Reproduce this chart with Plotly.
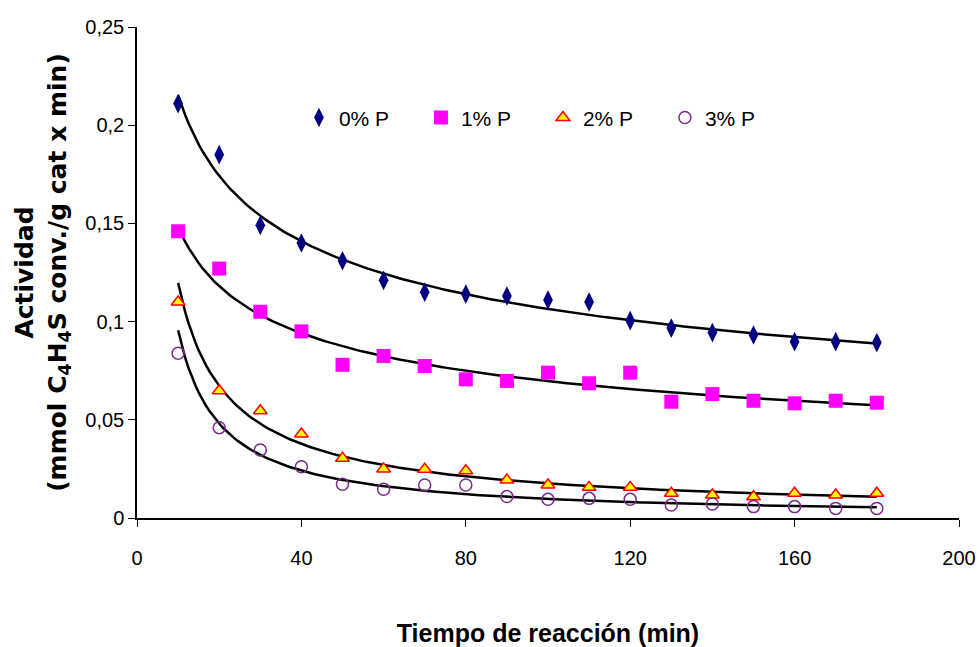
import numpy as np
import plotly.graph_objects as go

x_min = [10, 20, 30, 40, 50, 60, 70, 80, 90, 100, 110, 120, 130, 140, 150, 160, 170, 180]
p0 = [0.211, 0.185, 0.149, 0.140, 0.131, 0.121, 0.115, 0.114, 0.113, 0.111, 0.110, 0.1005, 0.0967, 0.0944, 0.0932, 0.0898, 0.0898, 0.0893]
p1 = [0.146, 0.127, 0.105, 0.095, 0.078, 0.0825, 0.0774, 0.0706, 0.0698, 0.074, 0.0686, 0.074, 0.0592, 0.0631, 0.0597, 0.0584, 0.0597, 0.0587]
p2 = [0.110, 0.0648, 0.0546, 0.0428, 0.0304, 0.0250, 0.0248, 0.0241, 0.0193, 0.0168, 0.0156, 0.0156, 0.0126, 0.0117, 0.0108, 0.0126, 0.0117, 0.0126]
p3 = [0.0839, 0.046, 0.0346, 0.0261, 0.0172, 0.0146, 0.0168, 0.0168, 0.0109, 0.0095, 0.0100, 0.0095, 0.0066, 0.0071, 0.0058, 0.0058, 0.0049, 0.0049]
names = ["0% P", "1% P", "2% P", "3% P"]
x_ticks = [0, 40, 80, 120, 160, 200]
y_ticks = [0, 0.05, 0.1, 0.15, 0.2, 0.25]

SANS = "Liberation Sans, Arial"

fig = go.Figure()

# power-law trendlines (y = a x^b), fitted from the data
xx = np.linspace(10, 180, 200)
for ys in [p0, p1, p2, p3]:
    b, lna = np.polyfit(np.log(x_min), np.log(ys), 1)
    fig.add_trace(go.Scatter(x=xx, y=np.exp(lna) * xx ** b, mode="lines",
                             line=dict(color="black", width=2.5), showlegend=False,
                             hoverinfo="skip"))

styles = [
    dict(symbol="diamond-tall", size=14, color="#000080", line=dict(width=0)),
    dict(symbol="square", size=14, color="#FF00FF", line=dict(width=0)),
    dict(symbol="triangle-up", size=12, color="#FFFF00", line=dict(color="#FF0000", width=1.5)),
    dict(symbol="circle-open", size=12, color="#7B2A8C", line=dict(color="#7B2A8C", width=1.5)),
]
for ys, nm, st in zip([p0, p1, p2, p3], names, styles):
    fig.add_trace(go.Scatter(x=x_min, y=ys, mode="markers", name=nm, marker=st))

fig.update_layout(
    width=980, height=647,
    margin=dict(l=137, r=21, t=27, b=129),
    paper_bgcolor="white", plot_bgcolor="white",
    separators=", ",
    font=dict(family=SANS, size=20, color="black"),
    showlegend=True,
    legend=dict(orientation="h", x=0.197, y=0.815, xanchor="left", yanchor="middle",
                bgcolor="rgba(0,0,0,0)", font=dict(family=SANS, size=21),
                entrywidth=77, entrywidthmode="pixels", itemwidth=30,
                traceorder="normal"),
    xaxis=dict(range=[0, 200], tickvals=x_ticks, showgrid=False, zeroline=False,
               automargin=False, ticklabeloverflow="allow",
               showline=True, linecolor="black", linewidth=1.5,
               ticks="outside", ticklen=7, tickcolor="black",
               ticklabelstandoff=14,
               tickfont=dict(family=SANS, size=20),
               title=dict(text="<b>Tiempo de reacción (min)</b>",
                          font=dict(family=SANS, size=25), standoff=58)),
    yaxis=dict(range=[0, 0.25], tickvals=y_ticks, showgrid=False, zeroline=False,
               automargin=False, ticklabeloverflow="allow",
               showline=True, linecolor="black", linewidth=1.5,
               ticks="outside", ticklen=7, tickcolor="black",
               tickfont=dict(family=SANS, size=20),
               title=dict(text="<b>Actividad</b><br><b>(mmol C<sub>4</sub>H<sub>4</sub>S conv./g cat x min)</b>",
                          font=dict(family="DejaVu Sans, Liberation Sans", size=25), standoff=12)),
)

fig.write_html("out.html")
